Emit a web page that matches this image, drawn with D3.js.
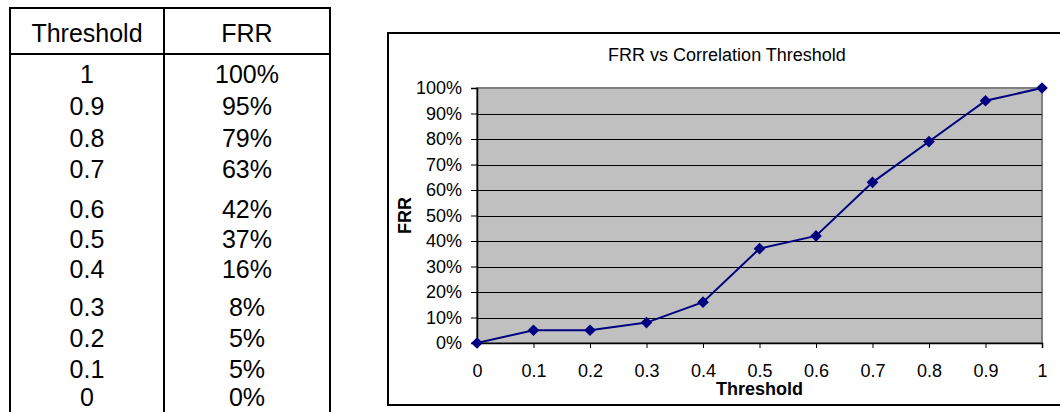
<!DOCTYPE html>
<html>
<head>
<meta charset="utf-8">
<script src="https://cdn.jsdelivr.net/npm/d3@7"></script>
<style>
  html, body { margin: 0; padding: 0; background: #fff; }
  svg { display: block; font-family: "Liberation Sans", Arial, sans-serif; }
</style>
</head>
<body>
<svg id="chart" width="1060" height="412"></svg>
<script>
// Threshold / FRR measurements
const thresholds = [0, 0.1, 0.2, 0.3, 0.4, 0.5, 0.6, 0.7, 0.8, 0.9, 1];
const frrValues  = [0, 5, 5, 8, 16, 37, 42, 63, 79, 95, 100];
const tableHeaders = ["Threshold", "FRR"];
const xTickValues = [0, 0.1, 0.2, 0.3, 0.4, 0.5, 0.6, 0.7, 0.8, 0.9, 1];
const yTickValues = [0, 10, 20, 30, 40, 50, 60, 70, 80, 90, 100];
const chartTitle = "FRR vs Correlation Threshold";
const xAxisTitle = "Threshold";
const yAxisTitle = "FRR";

const svg = d3.select("#chart");

/* ---------- table ---------- */
const table = { left: 10, right: 330, top: 8, divider: 164, headerLine: 54, bottom: 440 };
const tg = svg.append("g");
tg.append("rect")
  .attr("x", table.left).attr("y", table.top)
  .attr("width", table.right - table.left).attr("height", table.bottom - table.top)
  .attr("fill", "none").attr("stroke", "#000").attr("stroke-width", 2);
tg.append("line")
  .attr("x1", table.divider).attr("x2", table.divider)
  .attr("y1", table.top).attr("y2", table.bottom)
  .attr("stroke", "#000").attr("stroke-width", 2);
tg.append("line")
  .attr("x1", table.left).attr("x2", table.right)
  .attr("y1", table.headerLine).attr("y2", table.headerLine)
  .attr("stroke", "#000").attr("stroke-width", 2);

const colCenters = [(table.left + table.divider) / 2, (table.divider + table.right) / 2];
const tableFont = 25;

tg.selectAll("text.head").data(tableHeaders).join("text")
  .attr("class", "head")
  .attr("x", (d, i) => colCenters[i]).attr("y", 33)
  .attr("dy", "0.35em").attr("text-anchor", "middle")
  .attr("font-size", tableFont).attr("fill", "#000")
  .text(d => d);

// row heights of the sheet (two rows are taller than the others)
const rowHeights = [32, 32, 31, 40, 30, 30, 38, 31, 31, 28];
const rowCenters = [74];
rowHeights.forEach((h, i) => rowCenters.push(rowCenters[i] + h));

const rows = thresholds.map((t, i) => ({ t, v: frrValues[i] })).reverse();
const rowG = tg.selectAll("g.row").data(rows).join("g")
  .attr("class", "row")
  .attr("transform", (d, i) => `translate(0,${rowCenters[i]})`);
rowG.append("text")
  .attr("x", colCenters[0]).attr("dy", "0.35em").attr("text-anchor", "middle")
  .attr("font-size", tableFont).attr("fill", "#000")
  .text(d => String(d.t));
rowG.append("text")
  .attr("x", colCenters[1]).attr("dy", "0.35em").attr("text-anchor", "middle")
  .attr("font-size", tableFont).attr("fill", "#000")
  .text(d => d.v + "%");

/* ---------- chart ---------- */
const box = { left: 388, top: 33, right: 1075, bottom: 405 };
const plot = { left: 477, right: 1042, top: 88, bottom: 343 };

svg.append("rect")
  .attr("x", box.left).attr("y", box.top)
  .attr("width", box.right - box.left).attr("height", box.bottom - box.top)
  .attr("fill", "#fff").attr("stroke", "#000").attr("stroke-width", 2);

const x = d3.scaleLinear().domain([0, 1]).range([plot.left, plot.right]);
const y = d3.scaleLinear().domain([0, 100]).range([plot.bottom, plot.top]);

// plot area
svg.append("rect")
  .attr("x", plot.left).attr("y", plot.top)
  .attr("width", plot.right - plot.left).attr("height", plot.bottom - plot.top)
  .attr("fill", "#c0c0c0").attr("stroke", "#808080").attr("stroke-width", 2);

// horizontal gridlines
svg.append("g").selectAll("line")
  .data(yTickValues.filter(v => v > 0 && v < 100)).join("line")
  .attr("x1", plot.left).attr("x2", plot.right)
  .attr("y1", d => Math.round(y(d)) + 0.5).attr("y2", d => Math.round(y(d)) + 0.5)
  .attr("stroke", "#000").attr("stroke-width", 1);

// y axis
const yAxis = svg.append("g")
  .attr("transform", `translate(${plot.left},0)`)
  .call(d3.axisLeft(y).tickValues(yTickValues).tickFormat(d => d + "%")
        .tickSize(6).tickPadding(9));
yAxis.select(".domain").attr("stroke", "#000").attr("stroke-width", 1.5);
yAxis.selectAll(".tick line").attr("stroke", "#000");
yAxis.selectAll(".tick text")
  .attr("font-size", 18).attr("font-family", "Liberation Sans, Arial, sans-serif")
  .attr("fill", "#000");

// x axis
const xAxis = svg.append("g")
  .attr("transform", `translate(0,${plot.bottom})`)
  .call(d3.axisBottom(x).tickValues(xTickValues).tickFormat(d => String(d))
        .tickSize(5).tickSizeOuter(5).tickPadding(16));
xAxis.select(".domain").attr("stroke", "#000").attr("stroke-width", 1.5);
xAxis.selectAll(".tick line").attr("stroke", "#000");
xAxis.selectAll(".tick text")
  .attr("font-size", 18).attr("font-family", "Liberation Sans, Arial, sans-serif")
  .attr("fill", "#000");

// title and axis titles
svg.append("text")
  .attr("x", 727).attr("y", 55).attr("dy", "0.35em")
  .attr("text-anchor", "middle").attr("font-size", 18).attr("fill", "#000")
  .text(chartTitle);
svg.append("text")
  .attr("x", (plot.left + plot.right) / 2).attr("y", 389).attr("dy", "0.35em")
  .attr("text-anchor", "middle").attr("font-size", 18).attr("font-weight", "bold")
  .attr("fill", "#000").text(xAxisTitle);
svg.append("text")
  .attr("transform", `translate(405,${(plot.top + plot.bottom) / 2}) rotate(-90)`)
  .attr("dy", "0.35em")
  .attr("text-anchor", "middle").attr("font-size", 18).attr("font-weight", "bold")
  .attr("fill", "#000").text(yAxisTitle);

// series line and diamond markers
const points = thresholds.map((t, i) => ({ t, v: frrValues[i] }));
svg.append("path")
  .datum(points)
  .attr("fill", "none").attr("stroke", "#000080").attr("stroke-width", 2)
  .attr("d", d3.line().x(d => x(d.t)).y(d => y(d.v)));

const diamond = d3.symbol().type(d3.symbolSquare).size(68);
svg.append("g").selectAll("path")
  .data(points).join("path")
  .attr("transform", d => `translate(${x(d.t)},${y(d.v)}) rotate(45)`)
  .attr("d", diamond)
  .attr("fill", "#000080");
</script>
</body>
</html>
